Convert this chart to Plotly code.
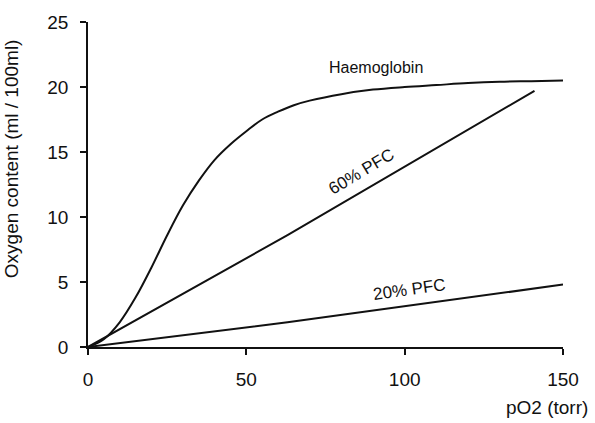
import plotly.graph_objects as go

# Data
hb_po2 = [0, 5, 10, 15, 20, 25, 30, 35, 40, 45, 50, 55, 60, 65, 70, 80, 90, 100, 110, 120, 130, 140, 150]
hb_o2 = [0, 0.6, 1.9, 3.8, 6.1, 8.6, 10.9, 12.8, 14.4, 15.6, 16.6, 17.5, 18.1, 18.6, 18.95, 19.45, 19.8, 20.0, 20.15, 20.3, 20.4, 20.45, 20.5]

pfc60_po2 = [0, 63, 141]
pfc60_o2 = [0, 8.6, 19.7]

pfc20_po2 = [0, 63, 150]
pfc20_o2 = [0, 1.9, 4.8]

x_ticks = [0, 50, 100, 150]
y_ticks = [0, 5, 10, 15, 20, 25]

FONT = "Liberation Sans, Arial, sans-serif"
line_style = dict(color="#111111", width=2)

fig = go.Figure()
fig.add_trace(go.Scatter(x=hb_po2, y=hb_o2, mode="lines",
                         line=dict(shape="spline", smoothing=1.0, **line_style), showlegend=False))
fig.add_trace(go.Scatter(x=pfc60_po2, y=pfc60_o2, mode="lines", line=line_style, showlegend=False))
fig.add_trace(go.Scatter(x=pfc20_po2, y=pfc20_o2, mode="lines", line=line_style, showlegend=False))

fig.add_annotation(x=90.8, y=21.5, text="Haemoglobin", showarrow=False, font=dict(size=16, color="#111"))
fig.add_annotation(x=86.4, y=13.5, text="60% PFC", showarrow=False, textangle=-31, font=dict(size=17, color="#111"))
fig.add_annotation(x=101.6, y=4.4, text="20% PFC", showarrow=False, textangle=-8, font=dict(size=17, color="#111"))

fig.add_annotation(xref="paper", yref="paper", x=1.057, y=-0.226, xanchor="right", yanchor="bottom",
                   text="pO2 (torr)", showarrow=False, font=dict(size=19, color="#111"))
fig.add_annotation(xref="paper", yref="paper", x=-0.162, y=0.578, xanchor="center", yanchor="middle",
                   text="Oxygen content (ml / 100ml)", textangle=-90, showarrow=False,
                   font=dict(size=19, color="#111"))

fig.update_layout(
    width=595, height=423,
    margin=dict(l=88, r=32, t=22, b=76),
    plot_bgcolor="white", paper_bgcolor="white",
    font=dict(family=FONT, size=19, color="#111"),
)
fig.update_xaxes(range=[0, 150], tickvals=x_ticks, showgrid=False, zeroline=False,
                 showline=True, linecolor="#111", linewidth=1.5,
                 ticks="outside", ticklen=6, tickcolor="#111", tickwidth=1.5,
                 ticklabelstandoff=8)
fig.update_yaxes(range=[0, 25], tickvals=y_ticks, showgrid=False, zeroline=False,
                 showline=True, linecolor="#111", linewidth=1.5,
                 ticks="outside", ticklen=6, tickcolor="#111", tickwidth=1.5,
                 ticklabelstandoff=8)

fig.write_html("out.html", config={"displayModeBar": False},
               post_script="document.body.style.margin='0';")
